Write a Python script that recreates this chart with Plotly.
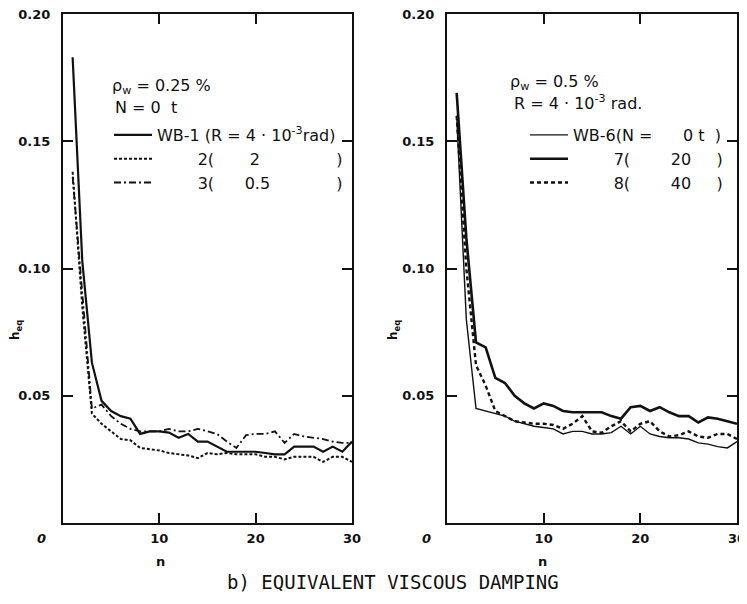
import plotly.graph_objects as go

# ---------------- data ----------------
n = list(range(1, 31))

# left panel (pw = 0.25 %, N = 0 t)
wb1 = [0.183, 0.103, 0.063, 0.048, 0.044, 0.042, 0.041, 0.035, 0.036, 0.036,
       0.0355, 0.0335, 0.035, 0.032, 0.032, 0.030, 0.028, 0.028, 0.028, 0.028,
       0.0275, 0.027, 0.027, 0.030, 0.030, 0.030, 0.028, 0.030, 0.028, 0.032]
wb2 = [0.138, 0.085, 0.043, 0.039, 0.036, 0.033, 0.0325, 0.0295, 0.029, 0.0285,
       0.0275, 0.027, 0.0265, 0.0255, 0.0275, 0.027, 0.0275, 0.027, 0.027, 0.027,
       0.026, 0.026, 0.025, 0.026, 0.026, 0.026, 0.024, 0.026, 0.026, 0.024]
wb3 = [0.136, 0.090, 0.045, 0.0465, 0.042, 0.039, 0.037, 0.036, 0.036, 0.036,
       0.037, 0.036, 0.036, 0.037, 0.036, 0.035, 0.032, 0.0295, 0.0345, 0.035,
       0.035, 0.036, 0.0315, 0.035, 0.034, 0.0335, 0.033, 0.032, 0.0315, 0.0315]

# right panel (pw = 0.5 %, R = 4e-3 rad)
wb6 = [0.160, 0.080, 0.045, 0.044, 0.043, 0.042, 0.040, 0.039, 0.038, 0.0375,
       0.037, 0.035, 0.036, 0.036, 0.035, 0.035, 0.0355, 0.038, 0.035, 0.038,
       0.035, 0.034, 0.0335, 0.0335, 0.033, 0.0315, 0.031, 0.030, 0.0295, 0.032]
wb7 = [0.169, 0.112, 0.071, 0.069, 0.057, 0.055, 0.050, 0.047, 0.045, 0.047,
       0.046, 0.044, 0.0435, 0.0435, 0.0435, 0.0435, 0.042, 0.041, 0.0455, 0.046,
       0.044, 0.0455, 0.0435, 0.042, 0.042, 0.0395, 0.0415, 0.041, 0.040, 0.039]
wb8 = [0.160, 0.100, 0.062, 0.054, 0.044, 0.042, 0.040, 0.0395, 0.039, 0.039,
       0.0385, 0.037, 0.039, 0.042, 0.036, 0.0355, 0.038, 0.040, 0.036, 0.039,
       0.040, 0.036, 0.034, 0.0345, 0.036, 0.034, 0.0335, 0.035, 0.035, 0.033]

y_ticks = [0.05, 0.10, 0.15, 0.20]
y_tick_text = ["0.05", "0.10", "0.15", "0.20"]
x_ticks = [10, 20, 30]
x_tick_text = ["10", "20", "30"]

NB = "\u00a0"
OFF = 8                 # page body margin of the browser
W, H = 739, 588         # figure size so that it fits the 747x604 window


def px(xp):
    return (xp - OFF) / W


def py(yp):
    return 1 - (yp - OFF) / H


FONT = "DejaVu Sans"
INK = "#111111"
LFS = 16


def sp(k):
    return NB * k


fig = go.Figure()

# left traces
fig.add_trace(go.Scatter(x=n, y=wb1, mode="lines", xaxis="x", yaxis="y",
                         line=dict(color=INK, width=2.2),
                         name="WB-1" + sp(1) + "(R" + sp(1) + "=" + sp(1) + "4" + sp(1) + "·" + sp(1)
                              + "10<sup>-3</sup>rad)", legend="legend"))
fig.add_trace(go.Scatter(x=n, y=wb2, mode="lines", xaxis="x", yaxis="y",
                         line=dict(color=INK, width=2, dash="3px,2px"),
                         name=sp(8) + "2(" + sp(7) + "2" + sp(15) + ")", legend="legend"))
fig.add_trace(go.Scatter(x=n, y=wb3, mode="lines", xaxis="x", yaxis="y",
                         line=dict(color=INK, width=1.8, dash="7px,3px,2px,3px"),
                         name=sp(8) + "3(" + sp(6) + "0.5" + sp(13) + ")", legend="legend"))

# right traces
fig.add_trace(go.Scatter(x=n, y=wb6, mode="lines", xaxis="x2", yaxis="y2",
                         line=dict(color=INK, width=1.4),
                         name="WB-6(N" + sp(1) + "=" + sp(6) + "0" + sp(1) + "t" + sp(2) + ")",
                         legend="legend2"))
fig.add_trace(go.Scatter(x=n, y=wb7, mode="lines", xaxis="x2", yaxis="y2",
                         line=dict(color=INK, width=2.6),
                         name=sp(8) + "7(" + sp(8) + "20" + sp(5) + ")", legend="legend2"))
fig.add_trace(go.Scatter(x=n, y=wb8, mode="lines", xaxis="x2", yaxis="y2",
                         line=dict(color=INK, width=2.4, dash="4px,3px"),
                         name=sp(8) + "8(" + sp(8) + "40" + sp(5) + ")", legend="legend2"))

axis_common = dict(
    showline=True, linecolor=INK, linewidth=2, mirror="ticks",
    ticks="inside", ticklen=10, tickwidth=2, tickcolor=INK,
    showgrid=False, zeroline=False, automargin=False, ticklabeloverflow="allow",
    tickfont=dict(family=FONT, size=13, color=INK, weight="bold"),
)

ydom = [py(523), py(14)]

fig.update_layout(
    width=W, height=H,
    margin=dict(l=0, r=0, t=0, b=0, autoexpand=False),
    paper_bgcolor="white", plot_bgcolor="white",
    font=dict(family=FONT, color=INK),
    xaxis=dict(domain=[px(63), px(352)], range=[0, 30], tickvals=x_ticks,
               ticktext=x_tick_text, anchor="y", ticklabelstandoff=2, **axis_common),
    yaxis=dict(domain=ydom, range=[0, 0.2], tickvals=y_ticks, ticktext=y_tick_text,
               anchor="x", ticklabelstandoff=8, **axis_common),
    xaxis2=dict(domain=[px(447), px(737)], range=[0, 30], tickvals=x_ticks,
                ticktext=x_tick_text, anchor="y2", ticklabelstandoff=2, **axis_common),
    yaxis2=dict(domain=ydom, range=[0, 0.2], tickvals=y_ticks, ticktext=y_tick_text,
                anchor="x2", ticklabelstandoff=8, **axis_common),
    legend=dict(x=px(109), y=py(118), xanchor="left", yanchor="top",
                bgcolor="rgba(0,0,0,0)", font=dict(family=FONT, size=LFS, color=INK),
                tracegroupgap=0, itemwidth=38),
    legend2=dict(x=px(525), y=py(118), xanchor="left", yanchor="top",
                 bgcolor="rgba(0,0,0,0)", font=dict(family=FONT, size=LFS, color=INK),
                 tracegroupgap=0, itemwidth=38),
    showlegend=True,
)

ann = []


def note(text, x, y, size=LFS, xanchor="left", **kw):
    d = dict(text=text, x=px(x), y=py(y), xref="paper", yref="paper", xanchor=xanchor,
             yanchor="middle", showarrow=False, font=dict(family=FONT, size=size, color=INK))
    d.update(kw)
    ann.append(d)


# "0" labels on x axes (offset left of axis as in original)
for xr in ["x", "x2"]:
    ann.append(dict(text="<b>0</b>", x=0, y=py(538), xref=xr, yref="paper",
                    xanchor="center", yanchor="middle", xshift=-21, showarrow=False,
                    font=dict(family=FONT, size=13, color=INK, style="italic")))
# axis titles
for xp in [160, 542]:
    note("<b>n</b>", xp, 561, size=13, xanchor="center")
for xp in [16, 394]:
    note("<b>h<sub>eq</sub></b>", xp, 330, size=12, xanchor="center", textangle=-90)
# panel notes
note("ρ<sub>w</sub>" + sp(1) + "=" + sp(1) + "0.25" + sp(1) + "%", 110, 87)
note("N" + sp(1) + "=" + sp(1) + "0" + sp(2) + "t", 113, 108)
note("ρ<sub>w</sub>" + sp(1) + "=" + sp(1) + "0.5" + sp(1) + "%", 508, 82)
note("R" + sp(1) + "=" + sp(1) + "4" + sp(1) + "·" + sp(1) + "10<sup>-3</sup>" + sp(1) + "rad.", 512, 102)
# bottom caption
ann.append(dict(text="b)" + sp(1) + "EQUIVALENT" + sp(1) + "VISCOUS" + sp(1) + "DAMPING", x=px(393),
                y=py(582), xref="paper", yref="paper", xanchor="center", yanchor="middle",
                showarrow=False, font=dict(family="DejaVu Sans Mono", size=19, color=INK)))

fig.update_layout(annotations=ann)
fig.write_html("out.html")
